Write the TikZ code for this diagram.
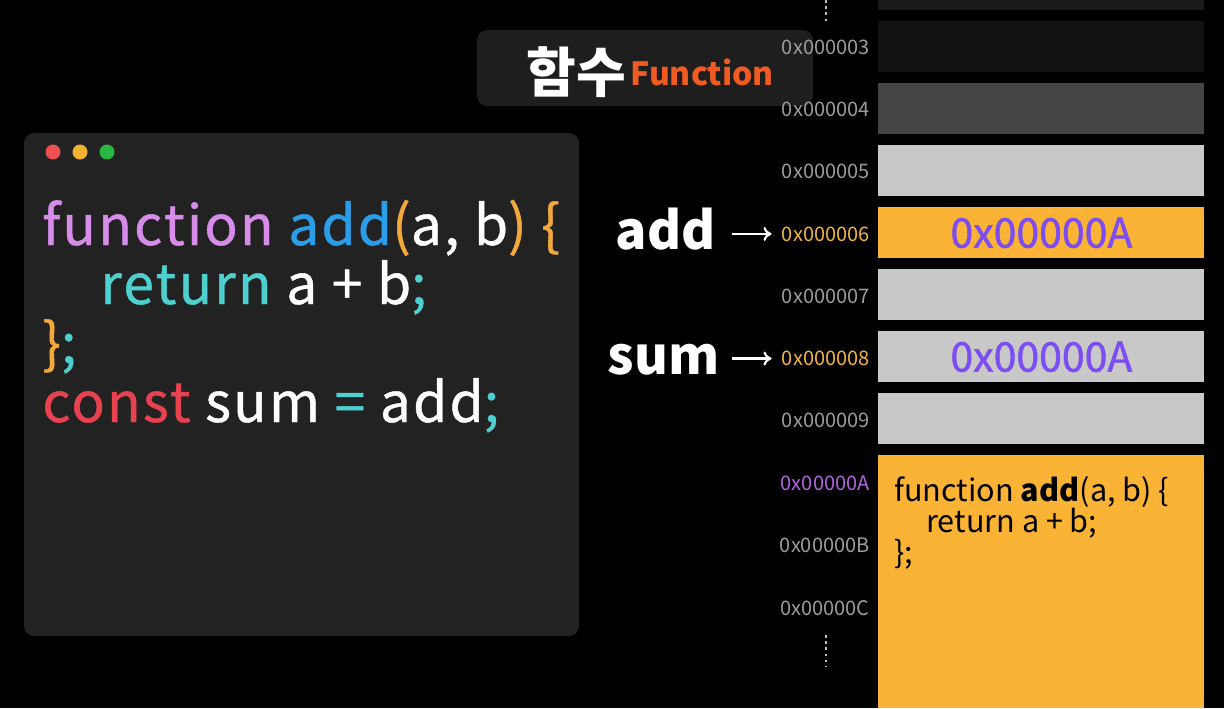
\documentclass[tikz,border=0pt]{standalone}
\usepackage{fontspec}
\setmainfont{Noto Sans CJK KR}
\newfontfamily\codefont{Noto Sans CJK KR}[LetterSpace=4, FakeBold=0.8]
\newfontfamily\medfont{Noto Sans CJK KR}[FakeBold=1.2]
\usetikzlibrary{arrows.meta, positioning}
\definecolor{panelfill}{HTML}{222222}
\definecolor{titlefill}{HTML}{1E1E1E}
\definecolor{dotred}{HTML}{EE4F4F}
\definecolor{dotyellow}{HTML}{F4B22E}
\definecolor{dotgreen}{HTML}{2BB543}
\definecolor{kwpurple}{HTML}{D88CE9}
\definecolor{fnblue}{HTML}{2B9EEA}
\definecolor{brorange}{HTML}{F2A93B}
\definecolor{retcyan}{HTML}{4ECFD0}
\definecolor{constred}{HTML}{E8414F}
\definecolor{titleorange}{HTML}{F15A22}
\definecolor{cellvoid}{HTML}{1A1A1A}
\definecolor{celldark}{HTML}{121212}
\definecolor{cellmid}{HTML}{444444}
\definecolor{cellgray}{HTML}{C8C8C8}
\definecolor{cellorange}{HTML}{FBB335}
\definecolor{addrgray}{HTML}{9C9C9C}
\definecolor{addrorange}{HTML}{F2B440}
\definecolor{addrpurple}{HTML}{B462E2}
\definecolor{ptrpurple}{HTML}{7C4DF2}
\tikzset{
  panel/.style    = {rectangle, rounded corners=5pt, fill=panelfill,
                     minimum width=277.5pt, minimum height=251.5pt, inner sep=0pt},
  titlebox/.style = {rectangle, rounded corners=5pt, fill=titlefill,
                     minimum width=168pt, minimum height=38pt, inner sep=0pt},
  windot/.style   = {circle, minimum size=7.5pt, inner sep=0pt},
  codeline/.style = {anchor=base west, inner sep=0pt, text=white,
                     font=\codefont\fontsize{27.6}{31}\selectfont},
  memcell/.style  = {rectangle, anchor=north west, minimum width=163pt,
                     minimum height=25.5pt, inner sep=0pt},
  addrlbl/.style  = {anchor=east, inner sep=0pt, font=\fontsize{10}{12}\selectfont},
  ptrval/.style   = {text=ptrpurple, font=\medfont\fontsize{20.5}{24}\selectfont},
  varlbl/.style   = {anchor=base east, inner sep=0pt, text=white,
                     font=\bfseries\fontsize{26}{29}\selectfont},
  memcode/.style  = {anchor=base west, inner sep=0pt, text=black,
                     font=\fontsize{15.3}{18}\selectfont},
  ptr/.style      = {-{To[length=4pt, width=7pt]}, line width=1.1pt, white},
  ellip/.style    = {line width=1.3pt, white!75!black, dash pattern=on 1.3pt off 1.8pt},
}
\begin{document}
\begin{tikzpicture}[x=0.5pt, y=-0.5pt]
  \fill[black] (0,0) rectangle (1224,708);
  \useasboundingbox (0,0) rectangle (1224,708);

  % title
  \node[titlebox] (titlebox) at (645,68) {};
  \node[inner sep=0pt, anchor=west, text=white,
        font=\bfseries\fontsize{27}{30}\selectfont] (titlekr) at (526,72) {함수};
  \node[inner sep=0pt, anchor=west, text=titleorange,
        font=\bfseries\fontsize{16}{18}\selectfont] (titleen) at (630,72) {Function};

  % code window
  \node[panel] (codewin) at (301.5,384.5) {};
  \foreach \i/\c in {0/dotred,1/dotyellow,2/dotgreen}
    \node[windot, fill=\c] (dot\i) at ({53+27*\i},152) {};
  \node[codeline] (line1) at (42,245)
    {\textcolor{kwpurple}{function} \textcolor{fnblue}{add}\textcolor{brorange}{(}a, b\textcolor{brorange}{)} \textcolor{brorange}{\{}};
  \node[codeline] (line2) at (100,304)
    {\textcolor{retcyan}{return} a + b\textcolor{retcyan}{;}};
  \node[codeline] (line3) at (42,363)
    {\textcolor{brorange}{\}}\textcolor{retcyan}{;}};
  \node[codeline] (line4) at (42,422)
    {\textcolor{constred}{const} sum \textcolor{retcyan}{=} add\textcolor{retcyan}{;}};

  % memory cells
  \foreach \i/\c in {2/cellvoid,3/celldark,4/cellmid,5/cellgray,6/cellorange,7/cellgray,8/cellgray,9/cellgray}
    \node[memcell, fill=\c] (cell\i) at (878,{21+62*(\i-3)}) {};
  \node[memcell, fill=cellorange, minimum height=126.5pt] (cellA) at (878,455) {};

  % addresses
  \foreach \i/\lbl/\c in {3/0x000003/addrgray,4/0x000004/addrgray,5/0x000005/addrgray,
      6/0x000006/addrorange,7/0x000007/addrgray,8/0x000008/addrorange,9/0x000009/addrgray,
      10/0x00000A/addrpurple,11/0x00000B/addrgray,12/0x00000C/addrgray}
    \node[addrlbl, text=\c] (addr\i) at (870,{47+62.3*(\i-3)}) {\lbl};
  \draw[ellip] (826,0) -- (826,24);
  \draw[ellip] (826,635) -- (826,667);

  % values
  \node[ptrval] (val6) at (cell6.center) {0x00000A};
  \node[ptrval] (val8) at (cell8.center) {0x00000A};
  \node[memcode] (fn1) at (894,501) {function \textbf{add}(a, b) \{};
  \node[memcode] (fn2) at (926,532) {return a + b;};
  \node[memcode] (fn3) at (894,563) {\};};

  % variables
  \node[varlbl] (add) at (716,249) {add};
  \node[varlbl] (sum) at (720,374) {sum};
  \draw[ptr, shorten <=8pt, shorten >=5pt] (add.east |- addr6.west) -- (addr6.west);
  \draw[ptr, shorten <=6pt, shorten >=5pt] (sum.east |- addr8.west) -- (addr8.west);
\end{tikzpicture}
\end{document}
